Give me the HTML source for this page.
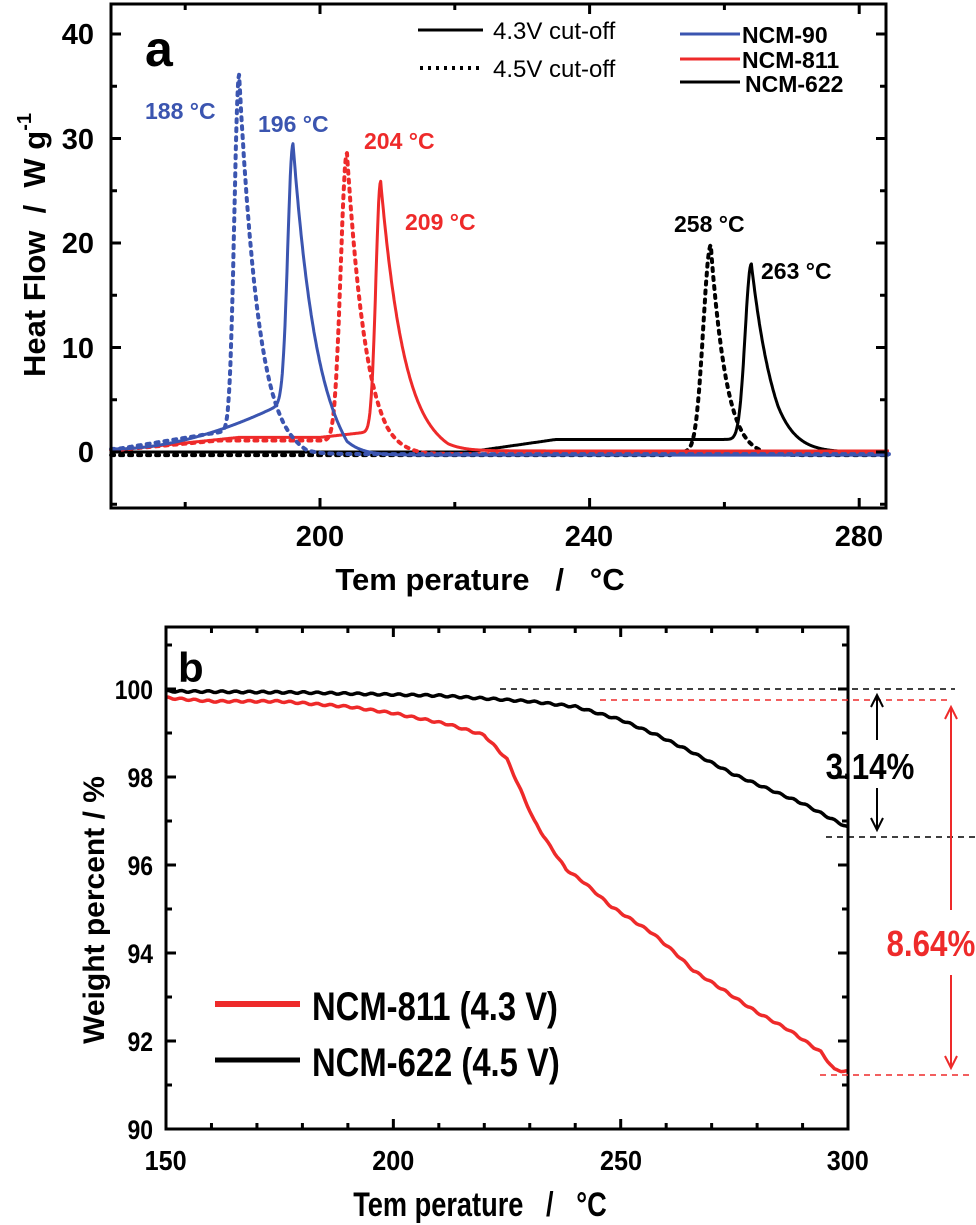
<!DOCTYPE html>
<html><head><meta charset="utf-8"><style>
html,body{margin:0;padding:0;background:#fff}
svg{display:block}
text{font-family:"Liberation Sans",sans-serif;font-weight:bold}
</style></head><body>
<svg id="s" width="976" height="1225" viewBox="0 0 976 1225" xmlns="http://www.w3.org/2000/svg">
<g id="A"></g>
<text x="145" y="66" font-size="50">a</text>
<g font-size="29" text-anchor="end">
<text x="94" y="44">40</text><text x="94" y="149">30</text><text x="94" y="253">20</text><text x="94" y="358">10</text><text x="94" y="462">0</text>
</g>
<g font-size="29" text-anchor="middle">
<text x="320" y="546">200</text><text x="589" y="546">240</text><text x="859" y="546">280</text>
</g>
<text x="480" y="590" font-size="31" text-anchor="middle">Tem perature &#160;&#160;/&#160;&#160; °C</text>
<text transform="translate(45,245) rotate(-90)" font-size="31" text-anchor="middle">Heat Flow &#160;/&#160; W g<tspan dy="-14" font-size="20">-1</tspan></text>
<line x1="418" y1="30" x2="483" y2="30" stroke="#000" stroke-width="3"/>
<text x="493" y="39" font-size="24" style="font-weight:normal">4.3V cut-off</text>
<line x1="420" y1="68" x2="480" y2="68" stroke="#000" stroke-width="4" stroke-dasharray="3,5"/>
<text x="493" y="77" font-size="24" style="font-weight:normal">4.5V cut-off</text>
<line x1="680" y1="34" x2="740" y2="34" stroke="#3b55b0" stroke-width="3"/>
<line x1="680" y1="59" x2="740" y2="59" stroke="#ee2a2a" stroke-width="3"/>
<line x1="680" y1="82" x2="740" y2="82" stroke="#000" stroke-width="3"/>
<text x="742" y="43" font-size="23">NCM-90</text>
<text x="742" y="68" font-size="23">NCM-811</text>
<text x="745" y="92" font-size="23">NCM-622</text>
<g font-size="23">
<text x="145" y="119" fill="#3b55b0">188 °C</text>
<text x="258" y="132" fill="#3b55b0">196 °C</text>
<text x="364" y="149" fill="#ee2a2a">204 °C</text>
<text x="405" y="230" fill="#ee2a2a">209 °C</text>
<text x="674" y="232" fill="#000">258 °C</text>
<text x="761" y="279" fill="#000">263 °C</text>
</g>
<g id="B"></g>
<text x="178" y="682" font-size="42">b</text>
<g font-size="27" text-anchor="end" transform="scale(0.85,1)">
<text x="180" y="699">100</text><text x="180" y="787">98</text><text x="180" y="875">96</text><text x="180" y="963">94</text><text x="180" y="1051">92</text><text x="180" y="1139">90</text>
</g>
<g font-size="28" text-anchor="middle" transform="scale(0.9,1)">
<text x="184" y="1170">150</text><text x="437" y="1170">200</text><text x="690" y="1170">250</text><text x="942" y="1170">300</text>
</g>
<text x="600" y="1216" font-size="34" text-anchor="middle" transform="scale(0.8,1)">Tem perature &#160;&#160;/&#160;&#160; °C</text>
<text transform="translate(104,910) rotate(-90)" font-size="30" text-anchor="middle">Weight percent / %</text>
<line x1="215" y1="1004" x2="300" y2="1004" stroke="#ee2a2a" stroke-width="6"/>
<line x1="215" y1="1060" x2="300" y2="1060" stroke="#000" stroke-width="5"/>
<g font-size="40" transform="translate(312,0) scale(0.82,1)">
<text x="0" y="1020">NCM-811 (4.3 V)</text>
<text x="0" y="1076">NCM-622 (4.5 V)</text>
</g>
<line x1="500" y1="689" x2="955" y2="689" stroke="#000" stroke-width="1.5" stroke-dasharray="6,5"/>
<line x1="600" y1="700" x2="950" y2="700" stroke="#ee2a2a" stroke-width="1.5" stroke-dasharray="6,5"/>
<line x1="826" y1="837" x2="976" y2="837" stroke="#000" stroke-width="1.5" stroke-dasharray="6,5"/>
<line x1="820" y1="1075" x2="972" y2="1075" stroke="#ee2a2a" stroke-width="1.5" stroke-dasharray="6,5"/>
<g stroke="#000" stroke-width="2" fill="none">
<line x1="877" y1="695" x2="877" y2="740"/><line x1="877" y1="788" x2="877" y2="830"/>
<polyline points="871,707 877,695 883,707"/><polyline points="871,818 877,830 883,818"/>
</g>
<g stroke="#ee2a2a" stroke-width="2" fill="none">
<line x1="951" y1="707" x2="951" y2="910"/><line x1="951" y1="975" x2="951" y2="1068"/>
<polyline points="945,719 951,707 957,719"/><polyline points="945,1056 951,1068 957,1056"/>
</g>
<text x="1000" y="779" font-size="36" transform="scale(0.87,1)" text-anchor="middle">3.14%</text>
<text x="1070" y="956" font-size="36" fill="#ee2a2a" transform="scale(0.87,1)" text-anchor="middle">8.64%</text>
</svg>
<script>
var NS="http://www.w3.org/2000/svg";
function el(p,t,a){var e=document.createElementNS(NS,t);for(var k in a)e.setAttribute(k,a[k]);p.appendChild(e);return e;}
var A=document.getElementById("A"),B=document.getElementById("B");
function X(T){return 320+(T-200)*6.74}
function Y(v){return 452-v*10.45}
function peak(T,Tp,h,wl,wr){if(T<Tp)return h*Math.exp(-Math.pow((Tp-T)/wl,2));var u=(T-Tp)/wr;return h*Math.exp(-u)*Math.exp(-0.07*u*u);}
function clamp(x){return Math.max(0,Math.min(1,x))}
function series(f,col,dash,w){var d="";for(var T=169;T<=284.5;T+=0.1){d+=(d?"L":"M")+X(T).toFixed(1)+","+Y(f(T)).toFixed(1);}
var a={d:d,fill:"none",stroke:col,"stroke-width":w||3,"stroke-linejoin":"round"};if(dash){a["stroke-dasharray"]="3,6";a["stroke-width"]=4;a["stroke-linecap"]="round"}el(A,"path",a);}
series(function(T){return -0.3+peak(T,258,19.8,1.6,2.4)+(T>252&&T<258?0.3:0)},"#000",1);
series(function(T){var b=1.2*clamp((T-222)/13)*(1-clamp((T-264)/4));return b+peak(T,264,16.8,1.3,3.2)},"#000");
series(function(T){var b=0.2+0.9*clamp((T-170)/15)*(1-clamp((T-204)/6))-0.4*clamp((T-205)/10);return b+peak(T,204,27.5,1.3,2.8)},"#ee2a2a",1);
series(function(T){var b=0.2+1.2*clamp((T-170)/18)+0.5*clamp((T-200)/7)-1.8*clamp((T-209)/10);return b+peak(T,209,24,1.0,3.4)},"#ee2a2a");
series(function(T){var b=0.3+1.8*clamp((T-170)/17)-2.3*clamp((T-188)/10);return b+peak(T,188,34,1.0,2.8)},"#3b55b0",1);
series(function(T){var b=0.3+Math.pow(clamp((T-170)/24),1.8)*4.2-4.8*clamp((T-196)/8);return b+peak(T,196,25,1.1,3.2)},"#3b55b0");
el(A,"rect",{x:111,y:4,width:775,height:504,fill:"none",stroke:"#000","stroke-width":3});
[180,200,220,240,260,280].forEach(function(T){var L=(T%40==0)?10:6;el(A,"line",{x1:X(T),y1:508,x2:X(T),y2:508-L,stroke:"#000","stroke-width":3});el(A,"line",{x1:X(T),y1:4,x2:X(T),y2:4+L,stroke:"#000","stroke-width":3});});
for(var v=-5;v<=40;v+=5){var L=(v%10==0)?10:6;el(A,"line",{x1:111,y1:Y(v),x2:111+L,y2:Y(v),stroke:"#000","stroke-width":3});el(A,"line",{x1:886,y1:Y(v),x2:886-L,y2:Y(v),stroke:"#000","stroke-width":3});}
function XB(T){return 166+(T-150)*4.547}
function YB(v){return 1129-(v-90)*44}
function interp(pts,T){for(var i=0;i<pts.length-1;i++){if(T<=pts[i+1][0]){var a=pts[i],b=pts[i+1],t=(T-a[0])/(b[0]-a[0]);return a[1]+(b[1]-a[1])*t;}}return pts[pts.length-1][1];}
var blk=[[150,99.95],[180,99.92],[210,99.85],[230,99.72],[240,99.6],[250,99.3],[258,98.95],[265,98.6],[275,98.05],[290,97.4],[300,96.85]];
var red=[[150,99.8],[160,99.72],[175,99.72],[190,99.6],[200,99.45],[212,99.2],[220,98.95],[225,98.4],[228,97.7],[231,97.0],[234,96.5],[238,95.9],[242,95.6],[248,95.05],[257,94.45],[262,94.0],[266,93.6],[272,93.2],[280,92.65],[287,92.25],[294,91.75],[297,91.35],[300,91.3]];
function bser(p,col,w){var d="";for(var T=150;T<=300;T+=0.5){var n=Math.sin(T*2.1)*0.02;d+=(d?"L":"M")+XB(T).toFixed(1)+","+YB(interp(p,T)+n).toFixed(1);}el(B,"path",{d:d,fill:"none",stroke:col,"stroke-width":w});}
bser(blk,"#000",3.5);bser(red,"#ee2a2a",3.5);
el(B,"rect",{x:166,y:627,width:682,height:502,fill:"none",stroke:"#000","stroke-width":3});
for(var T=160;T<300;T+=10){var L=(T%50==0)?10:6;el(B,"line",{x1:XB(T),y1:1129,x2:XB(T),y2:1129-L,stroke:"#000","stroke-width":3});el(B,"line",{x1:XB(T),y1:627,x2:XB(T),y2:627+L,stroke:"#000","stroke-width":3});}
for(var v=91;v<=101;v++){var L=(v%2==0)?10:6;el(B,"line",{x1:166,y1:YB(v),x2:166+L,y2:YB(v),stroke:"#000","stroke-width":3});el(B,"line",{x1:848,y1:YB(v),x2:848-L,y2:YB(v),stroke:"#000","stroke-width":3});}
</script>
</body></html>
